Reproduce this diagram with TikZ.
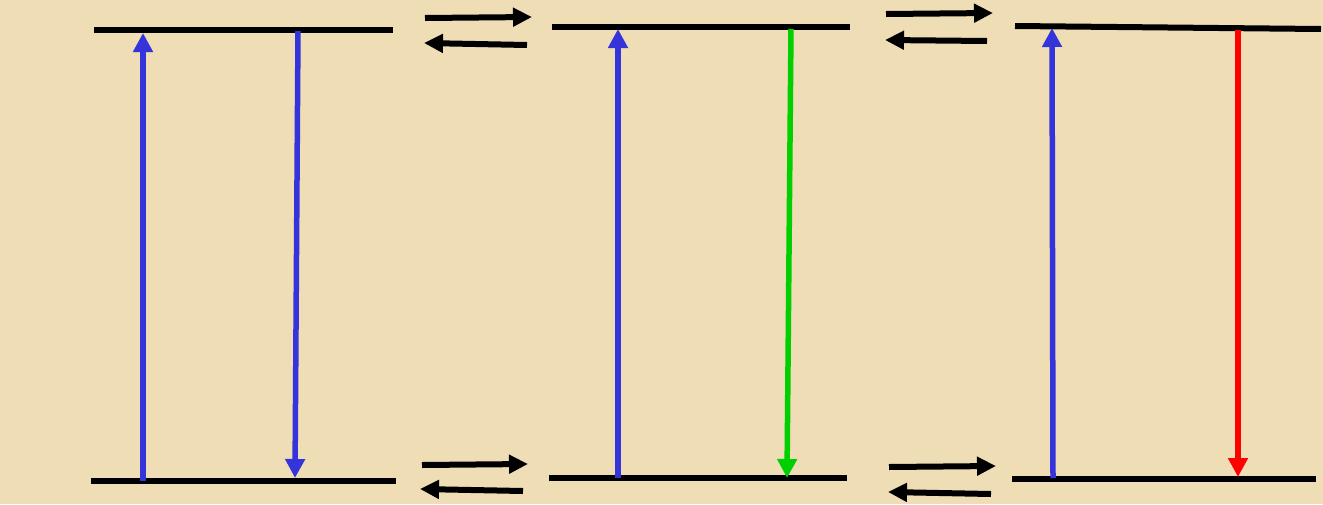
\documentclass[tikz,border=0pt]{standalone}
\usetikzlibrary{arrows.meta}
\definecolor{parch}{RGB}{239,221,182}
\definecolor{tblue}{RGB}{52,52,218}
\definecolor{tgreen}{RGB}{0,208,0}
\definecolor{tred}{RGB}{255,0,0}
\tikzset{
  level/.style={line width=6pt, black},
  trans/.style={line width=5.5pt, -{Triangle[length=19pt,width=19pt]}},
  eqarrow/.style={line width=6pt, black, -{Triangle[length=19pt,width=18pt]}},
}
\begin{document}
\begin{tikzpicture}[x=1pt,y=-1pt]
\fill[parch] (0,0) rectangle (1323,504);
\useasboundingbox (0,0) rectangle (1323,504);
% levels
\coordinate (t1a) at (94,30);   \coordinate (t1b) at (393,30);
\coordinate (b1a) at (91,481);  \coordinate (b1b) at (396,481);
\coordinate (t2a) at (552,27);  \coordinate (t2b) at (850,27);
\coordinate (b2a) at (549,478); \coordinate (b2b) at (847,478);
\coordinate (t3a) at (1015,26); \coordinate (t3b) at (1321,29);
\coordinate (b3a) at (1012,479);\coordinate (b3b) at (1316,479);
\draw[level] (t1a) -- (t1b);
\draw[level] (b1a) -- (b1b);
\draw[level] (t2a) -- (t2b);
\draw[level] (b2a) -- (b2b);
\draw[level] (t3a) -- (t3b);
\draw[level] (b3a) -- (b3b);
% transitions
\coordinate (u1s) at (143,481); \coordinate (u1e) at (143,33);
\coordinate (d1s) at (298,31);  \coordinate (d1e) at (295,478);
\coordinate (u2s) at (618,478); \coordinate (u2e) at (618,29);
\coordinate (d2s) at (791,29);  \coordinate (d2e) at (787,478);
\coordinate (u3s) at (1053,478);\coordinate (u3e) at (1052,28);
\coordinate (d3s) at (1238,30); \coordinate (d3e) at (1238,477);
\draw[trans, tblue] (u1s) -- (u1e);
\draw[trans, tblue] (d1s) -- (d1e);
\draw[trans, tblue] (u2s) -- (u2e);
\draw[trans, tgreen] (d2s) -- (d2e);
\draw[trans, tblue] (u3s) -- (u3e);
\draw[trans, tred] (d3s) -- (d3e);
% equilibrium arrows
\coordinate (e1a) at (425,18);  \coordinate (e1b) at (532,17);
\coordinate (e2a) at (527,45);  \coordinate (e2b) at (424,43);
\coordinate (e3a) at (422,465); \coordinate (e3b) at (528,464);
\coordinate (e4a) at (523,491); \coordinate (e4b) at (420,489);
\coordinate (e5a) at (886,14);  \coordinate (e5b) at (993,13);
\coordinate (e6a) at (987,41);  \coordinate (e6b) at (885,40);
\coordinate (e7a) at (889,467); \coordinate (e7b) at (996,466);
\coordinate (e8a) at (991,494); \coordinate (e8b) at (888,492);
\draw[eqarrow] (e1a) -- (e1b);
\draw[eqarrow] (e2a) -- (e2b);
\draw[eqarrow] (e3a) -- (e3b);
\draw[eqarrow] (e4a) -- (e4b);
\draw[eqarrow] (e5a) -- (e5b);
\draw[eqarrow] (e6a) -- (e6b);
\draw[eqarrow] (e7a) -- (e7b);
\draw[eqarrow] (e8a) -- (e8b);
\end{tikzpicture}
\end{document}
